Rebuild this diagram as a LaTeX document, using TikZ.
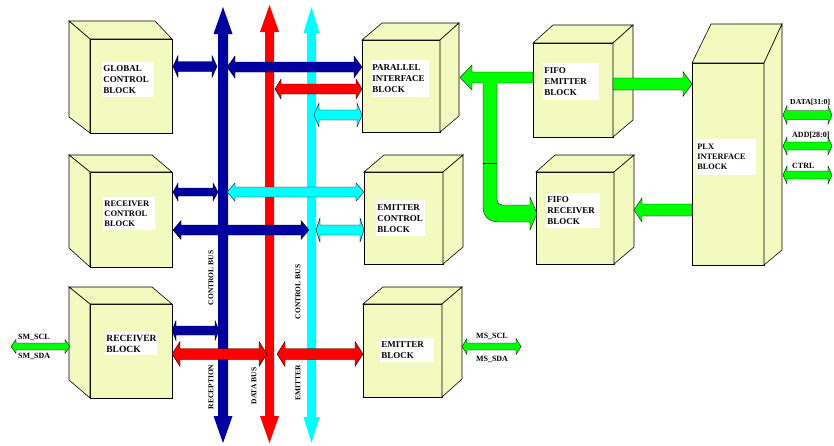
\documentclass[tikz,border=0pt]{standalone}
\usepackage{fontspec}
\setmainfont{Liberation Serif}
\definecolor{cubefill}{RGB}{243,250,192}
\definecolor{navy}{RGB}{0,0,160}
\definecolor{busred}{RGB}{255,0,0}
\definecolor{buscyan}{RGB}{0,255,255}
\definecolor{busgreen}{RGB}{0,255,0}
% left-deep cube: front x1 y1 x2 y2, back-top-left x, back y, back-top-right x, back-bottom-left y
\newcommand\cubeL[8]{%
  \filldraw[cubeline] (#1,#2) rectangle (#3,#4);
  \filldraw[cubeline] (#1,#2) -- (#3,#2) -- (#7,#6) -- (#5,#6) -- cycle;
  \filldraw[cubeline] (#5,#6) -- (#1,#2) -- (#1,#4) -- (#5,#8) -- cycle;}
% right-deep cube: back-bottom-right y as #8
\newcommand\cubeR[8]{%
  \filldraw[cubeline] (#1,#2) rectangle (#3,#4);
  \filldraw[cubeline] (#1,#2) -- (#3,#2) -- (#7,#6) -- (#5,#6) -- cycle;
  \filldraw[cubeline] (#3,#2) -- (#7,#6) -- (#7,#8) -- (#3,#4) -- cycle;}
% horizontal double block arrow: colour, x1, x2, y, shaft half, head half, head length
\newcommand\hdbl[7]{%
  \filldraw[arrline, fill=#1] (#2,#4) -- (#2+#7,#4-#6) -- (#2+#7,#4-#5) -- (#3-#7,#4-#5) -- (#3-#7,#4-#6) -- (#3,#4)
   -- (#3-#7,#4+#6) -- (#3-#7,#4+#5) -- (#2+#7,#4+#5) -- (#2+#7,#4+#6) -- cycle;}
% single arrow pointing left (tip at x1)
\newcommand\hleft[7]{%
  \filldraw[arrline, fill=#1] (#2,#4) -- (#2+#7,#4-#6) -- (#2+#7,#4-#5) -- (#3,#4-#5) -- (#3,#4+#5)
   -- (#2+#7,#4+#5) -- (#2+#7,#4+#6) -- cycle;}
% single arrow pointing right (tip at x2)
\newcommand\hright[7]{%
  \filldraw[arrline, fill=#1] (#3,#4) -- (#3-#7,#4-#6) -- (#3-#7,#4-#5) -- (#2,#4-#5) -- (#2,#4+#5)
   -- (#3-#7,#4+#5) -- (#3-#7,#4+#6) -- cycle;}
% vertical double bus arrow: colour, x, ytop, ybot, shaft half, head half, head length
\newcommand\vbus[7]{%
  \fill[#1] (#2,#3) -- (#2+#6,#3+#7) -- (#2+#5,#3+#7) -- (#2+#5,#4-#7) -- (#2+#6,#4-#7) -- (#2,#4)
   -- (#2-#6,#4-#7) -- (#2-#5,#4-#7) -- (#2-#5,#3+#7) -- (#2-#6,#3+#7) -- cycle;}
\begin{document}
\begin{tikzpicture}[x=1pt,y=-1pt,
  cubeline/.style={fill=cubefill, draw=black, line width=0.6pt, line join=miter},
  arrline/.style={draw=black, line width=0.35pt, line join=miter},
  lbl/.style={fill=white, inner xsep=1.2pt, inner ysep=0pt, align=left, anchor=north west,
    font=\bfseries\fontsize{9}{11}\selectfont},
  siglbl/.style={inner sep=0pt, font=\bfseries\fontsize{8}{9}\selectfont},
  buslbl/.style={inner sep=0pt, rotate=90, font=\bfseries\fontsize{7.5}{8}\selectfont}]
\useasboundingbox (0,0) rectangle (834,445);
\fill[white] (0,0) rectangle (834,445);

% ---- cubes ----
\cubeL{90}{39}{172}{133}{69}{21}{155}{117}
\cubeL{90}{172}{172}{267}{69}{155}{152}{248}
\cubeL{90}{304}{172}{398}{69}{287}{152}{380}
\cubeR{362}{40}{440}{132}{382}{23}{459}{116}
\cubeR{533}{43}{613}{137}{553}{25}{633}{120}
\cubeR{364}{172}{443}{264}{384}{155}{463}{247}
\cubeR{536}{172}{614}{264}{555}{155}{634}{247}
\cubeR{363}{304}{442}{397}{383}{287}{462}{379}
\cubeR{692}{63}{764}{265}{711}{24}{782}{250}

% ---- block labels ----
\node[lbl, text width=49.6pt, minimum height=35pt] (gcb) at (102,62) {GLOBAL\\CONTROL\\BLOCK};
\node[lbl, text width=49.6pt, minimum height=33pt, font=\bfseries\fontsize{8.5}{10}\selectfont] (rcb) at (103,197) {RECEIVER\\CONTROL\\BLOCK};
\node[lbl, text width=49.6pt, minimum height=23pt, font=\bfseries\fontsize{9.5}{10.5}\selectfont] (rb) at (105,332) {RECEIVER\\BLOCK};
\node[lbl, text width=55.6pt, minimum height=37pt] (pib) at (371,60) {PARALLEL\\INTERFACE\\BLOCK};
\node[lbl, text width=53.6pt, minimum height=37pt] (feb) at (543,63) {FIFO\\EMITTER\\BLOCK};
\node[lbl, text width=46.6pt, minimum height=36pt] (ecb) at (376,200) {EMITTER\\CONTROL\\BLOCK};
\node[lbl, text width=51.6pt, minimum height=35pt] (frb) at (546,193) {FIFO\\RECEIVER\\BLOCK};
\node[lbl, text width=51.6pt, minimum height=24pt] (eb) at (380,338) {EMITTER\\BLOCK};
\node[lbl, text width=57.6pt, minimum height=36pt, font=\bfseries\fontsize{8.3}{10}\selectfont] (plx) at (696,139) {PLX\\INTERFACE\\BLOCK};

% ---- buses ----
\vbus{navy}{223}{7}{443}{5}{9.5}{27}
\vbus{busred}{269.5}{5}{443}{4.5}{9.5}{27}
\vbus{buscyan}{311.5}{7}{443}{4.5}{8}{26}

% ---- bus labels ----
\node[buslbl] (cbr) at (211,278) {CONTROL BUS};
\node[buslbl] (rec) at (211,387) {RECEPTION};
\node[buslbl] (dbus) at (254,386) {DATA BUS};
\node[buslbl] (cbe) at (298,292) {CONTROL BUS};
\node[buslbl] (emi) at (298,383) {EMITTER};

% ---- navy connectors ----
\hdbl{navy}{173}{217}{66.5}{5}{11}{5}
\hdbl{navy}{227}{362}{67}{5}{11}{8}
\hdbl{navy}{173}{218}{192}{4}{9}{5}
\hdbl{navy}{173}{309}{230}{5}{9.5}{8}
\hdbl{navy}{172}{219}{330.5}{4.5}{10}{4}
% ---- red connectors ----
\hdbl{busred}{275}{362}{89}{5}{10}{6}
\hdbl{busred}{172}{267}{354}{5.5}{12.5}{8}
\hdbl{busred}{277}{363}{354}{5.5}{12.5}{8}
% ---- cyan connectors ----
\hdbl{buscyan}{314}{362}{115}{5}{12}{5}
\hdbl{buscyan}{227}{364}{192}{5}{9}{8}
\hdbl{buscyan}{316}{364}{230}{5}{12}{4}

% ---- green connectors ----
\hdbl{busgreen}{11}{70}{346.5}{3.5}{7}{5}
\hdbl{busgreen}{462}{521}{346.5}{3.5}{8}{5}
\hdbl{busgreen}{783}{832}{115}{4.5}{9.5}{4}
\hdbl{busgreen}{783}{832}{146}{4}{9}{4}
\hdbl{busgreen}{783}{832}{175}{4}{9}{4}
% FIFO emitter -> parallel interface (branch to FIFO receiver)
\filldraw[arrline, fill=busgreen] (483,82) -- (483,207) .. controls (483,216) and (489,222) .. (498,222)
  -- (530,222) -- (530,230) -- (537,213.5) -- (530,197) -- (530,205) -- (502,205)
  .. controls (499,205) and (497,203) .. (497,200) -- (497,82) -- cycle;
\draw[arrline] (483,163) -- (497,163);
\hleft{busgreen}{460}{533}{77.5}{5.5}{12.5}{12}
\fill[busgreen] (483.4,82) rectangle (496.6,84);
\hright{busgreen}{613}{692}{84}{6}{12.5}{9}
\hleft{busgreen}{634}{692}{210}{6}{12}{8}

% ---- signal labels ----
\node[siglbl, anchor=west] (scl) at (18,337) {SM\_SCL};
\node[siglbl, anchor=west] (sda) at (18,356) {SM\_SDA};
\node[siglbl] (mscl) at (492,336) {MS\_SCL};
\node[siglbl] (msda) at (492,359) {MS\_SDA};
\node[siglbl, anchor=west, font=\bfseries\fontsize{7.7}{9}\selectfont] (data) at (790,102) {DATA[31:0]};
\node[siglbl, anchor=west] (addr) at (792,135) {ADD[28:0]};
\node[siglbl, anchor=west] (ctrl) at (792,166) {CTRL};
\end{tikzpicture}
\end{document}
